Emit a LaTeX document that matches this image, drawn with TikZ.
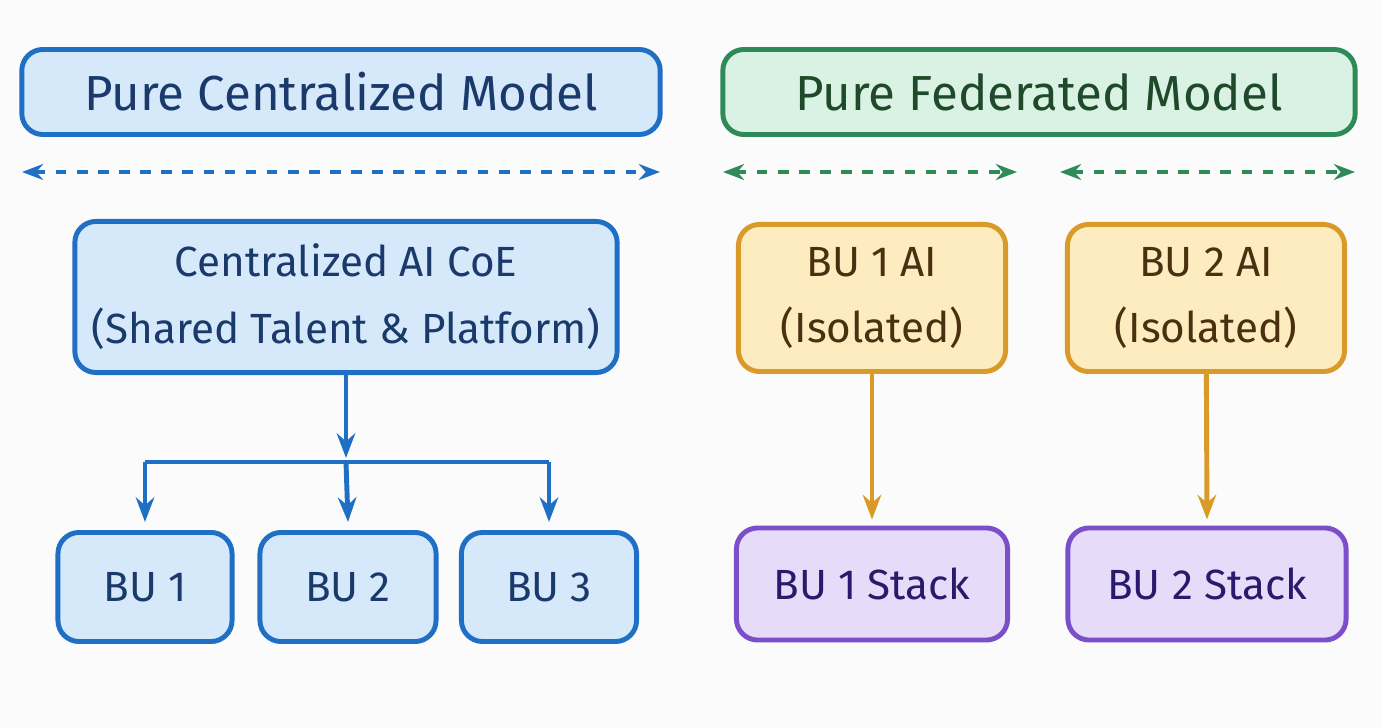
\documentclass[tikz,border=0pt]{standalone}
\usepackage{fontspec}
\setmainfont{Fira Sans}
\usetikzlibrary{calc}
\usetikzlibrary{positioning}
\usetikzlibrary{arrows.meta}
\definecolor{blueD}{HTML}{1F6FC5}\definecolor{blueF}{HTML}{D6E9FA}\definecolor{blueT}{HTML}{1A3A6B}
\definecolor{greenD}{HTML}{2E8B57}\definecolor{greenF}{HTML}{D9F2E3}\definecolor{greenT}{HTML}{1E4A2A}
\definecolor{orangeD}{HTML}{D99A2A}\definecolor{orangeF}{HTML}{FCECC0}\definecolor{orangeT}{HTML}{4A3010}
\definecolor{purpleD}{HTML}{7A4FC9}\definecolor{purpleF}{HTML}{E6DCFA}\definecolor{purpleT}{HTML}{2A1A6B}
\tikzstyle{boxnode} = [draw, rounded corners=6pt, line width=1.4pt, align=center, inner sep=0pt]
\tikzstyle{colorBlue} = [boxnode, draw=blueD, fill=blueF, text=blueT]
\tikzstyle{colorGreen} = [boxnode, draw=greenD, fill=greenF, text=greenT]
\tikzstyle{colorOrange} = [boxnode, draw=orangeD, fill=orangeF, text=orangeT]
\tikzstyle{colorPurple} = [boxnode, draw=purpleD, fill=purpleF, text=purpleT]
\tikzstyle{dasharrow} = [dashed, line width=1.2pt, {Stealth[length=6pt]}-{Stealth[length=6pt]}]
\tikzstyle{flow} = [line width=1.4pt, -{Stealth[length=7pt]}]
\begin{document}
\begin{tikzpicture}[x=0.01cm, y=-0.01cm, font=\fontsize{12}{15}\selectfont]
    \fill[white!97!gray] (0,0) rectangle (1382,728);
    \useasboundingbox (0,0) rectangle (1382,728);

    % titles
    \node[colorBlue, minimum width=6.38cm, minimum height=0.85cm, font=\fontsize{14}{16}\selectfont] (cen_title) at (341,92) {Pure Centralized Model};
    \node[colorGreen, minimum width=6.32cm, minimum height=0.85cm, font=\fontsize{14}{16}\selectfont] (fed_title) at (1039,92) {Pure Federated Model};
    \coordinate (cen_l) at (22,172); \coordinate (cen_r) at (660,172);
    \coordinate (fed_a) at (723,172); \coordinate (fed_b) at (1017,172);
    \coordinate (fed_c) at (1060,172); \coordinate (fed_d) at (1355,172);
    \draw[dasharrow, blueD] (cen_l) -- (cen_r);
    \draw[dasharrow, greenD] (fed_a) -- (fed_b);
    \draw[dasharrow, greenD] (fed_c) -- (fed_d);

    % centralized
    \node[colorBlue, minimum width=5.42cm, minimum height=1.51cm] (coe) at (346,297) {Centralized AI CoE\\[4pt](Shared Talent \& Platform)};
    \node[colorBlue, minimum width=1.74cm, minimum height=1.09cm] (bu_one) at (145,587) {BU 1};
    \node[colorBlue, minimum width=1.76cm, minimum height=1.09cm] (bu_two) at (348,587) {BU 2};
    \node[colorBlue, minimum width=1.75cm, minimum height=1.09cm] (bu_three) at (549,587) {BU 3};
    \coordinate (split) at (346,462);
    \draw[flow, blueD] (coe) -- ($(split)+(0,-4)$);
    \draw[line width=1.4pt, blueD] (split -| bu_one) -- (split -| bu_three);
    \draw[flow, blueD] (split -| bu_one) -- ($(bu_one.north)+(0,-8)$);
    \draw[flow, blueD] (split) -- ($(bu_two.north)+(0,-8)$);
    \draw[flow, blueD] (split -| bu_three) -- ($(bu_three.north)+(0,-8)$);

    % federated
    \node[colorOrange, minimum width=2.67cm, minimum height=1.47cm] (ai_one) at (872,298) {BU 1 AI\\[4pt](Isolated)};
    \node[colorOrange, minimum width=2.77cm, minimum height=1.47cm] (ai_two) at (1206,298) {BU 2 AI\\[4pt](Isolated)};
    \node[colorPurple, minimum width=2.71cm, minimum height=1.12cm] (stack_one) at (872,584) {BU 1 Stack};
    \node[colorPurple, minimum width=2.78cm, minimum height=1.12cm] (stack_two) at (1207,584) {BU 2 Stack};
    \draw[flow, orangeD] (ai_one) -- ($(stack_one.north)+(0,-6)$);
    \draw[flow, orangeD] (ai_two) -- ($(stack_two.north)+(0,-6)$);
\end{tikzpicture}
\end{document}
